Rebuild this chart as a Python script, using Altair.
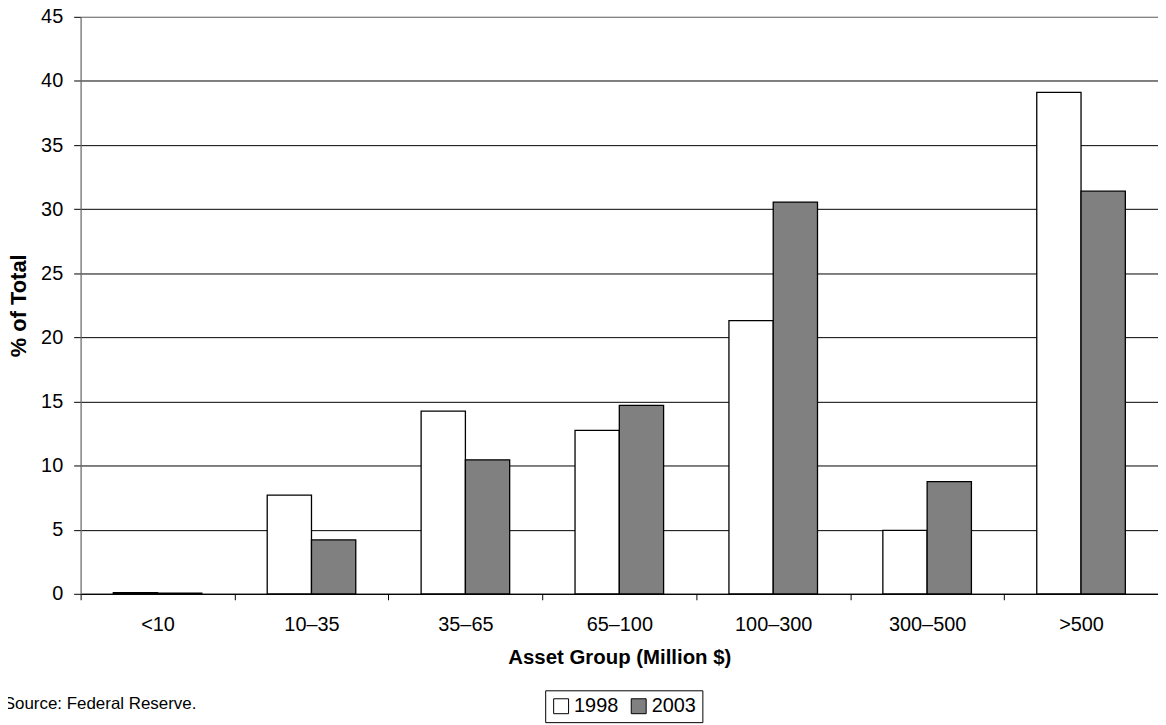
import altair as alt
import pandas as pd

categories = ["<10", "10–35", "35–65", "65–100", "100–300", "300–500", ">500"]
years = ["1998", "2003"]
v1998 = [0.1, 7.7, 14.25, 12.75, 21.3, 4.95, 39.1]
v2003 = [0.05, 4.2, 10.45, 14.7, 30.55, 8.75, 31.4]
y_ticks = [0, 5, 10, 15, 20, 25, 30, 35, 40, 45]

rows = []
for c, a, b in zip(categories, v1998, v2003):
    rows.append({"group": c, "year": "1998", "value": a})
    rows.append({"group": c, "year": "2003", "value": b})
df = pd.DataFrame(rows)

FONT = "Liberation Sans"

chart = alt.Chart(df).mark_bar(stroke="black", strokeWidth=1.3).encode(
    x=alt.X(
        "group:N",
        sort=categories,
        scale=alt.Scale(paddingInner=0, paddingOuter=0),
        axis=alt.Axis(
            title="Asset Group (Million $)",
            labelAngle=0,
            tickBand="extent",
            grid=False,
            domainColor="black",
            tickColor="black",
            tickSize=6,
            labelFontSize=20,
            labelColor="black",
            labelPadding=15,
            titleFontSize=20.5,
            titleFontWeight="bold",
            titleColor="black",
            titlePadding=13,
        ),
    ),
    xOffset=alt.XOffset(
        "year:N",
        sort=years,
        scale=alt.Scale(paddingInner=0, paddingOuter=0.738),
    ),
    y=alt.Y(
        "value:Q",
        scale=alt.Scale(domain=[0, 45], nice=False),
        axis=alt.Axis(
            title="% of Total",
            values=y_ticks,
            grid=True,
            gridColor={"condition": {"test": "datum.value === 45", "value": "#808080"}, "value": "black"},
            gridWidth=1,
            domainColor="#808080",
            tickColor="black",
            tickSize=7,
            labelFontSize=20,
            labelColor="black",
            labelPadding=11,
            titleFontSize=22,
            titleFontWeight="bold",
            titleColor="black",
            titlePadding=10,
        ),
    ),
    fill=alt.Fill(
        "year:N",
        sort=years,
        scale=alt.Scale(domain=years, range=["white", "#808080"]),
        legend=alt.Legend(
            title=None,
            orient="none",
            direction="horizontal",
            legendX=467,
            legendY=677,
            strokeColor="black",
            padding=6,
            symbolType="square",
            symbolSize=225,
            symbolStrokeColor="black",
            symbolStrokeWidth=1,
            labelFontSize=20,
            labelColor="black",
            labelOffset=3,
            columnPadding=10,
        ),
    ),
).properties(
    width=1083,
    height=580,
    padding={"left": 73, "top": 7, "right": 0, "bottom": 130},
    autosize=alt.AutoSizeParams(type="none"),
    title=alt.TitleParams(
        "Source: Federal Reserve.",
        orient="bottom",
        anchor="start",
        dx=-4,
        dy=-27,
        fontSize=17,
        fontWeight="normal",
        color="black",
        offset=0,
    ),
).configure(font=FONT).configure_view(stroke="#808080", strokeWidth=1)

chart.save("out.html", embed_options={"renderer": "svg", "actions": False})
